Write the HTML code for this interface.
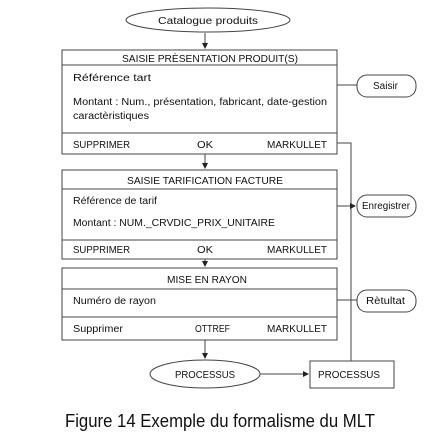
<!DOCTYPE html>
<html><head><meta charset="utf-8"><style>
html,body{margin:0;padding:0;background:#fff;}
svg{display:block;font-family:"Liberation Sans",sans-serif;}
svg text{font-size:10px;fill:#111;}
</style></head><body>
<svg width="434" height="445" viewBox="0 0 434 445" xmlns="http://www.w3.org/2000/svg">
<defs><marker id="a" markerWidth="6" markerHeight="6" refX="5" refY="3" orient="auto" markerUnits="userSpaceOnUse"><path d="M0,0 L6,3 L0,6z" fill="#222"/></marker></defs>
<g stroke="#444" stroke-width="1" fill="none">
<ellipse cx="208" cy="20" rx="82" ry="12"/>
<line x1="205" y1="33" x2="205" y2="48" marker-end="url(#a)"/>
<rect x="62" y="50" width="275" height="104"/>
<line x1="62" y1="65" x2="337" y2="65"/>
<line x1="62" y1="133" x2="337" y2="133"/>
<line x1="205" y1="154" x2="205" y2="168" marker-end="url(#a)"/>
<rect x="62" y="170" width="275" height="89"/>
<line x1="62" y1="189" x2="337" y2="189"/>
<line x1="62" y1="240" x2="337" y2="240"/>
<line x1="205" y1="259" x2="205" y2="266" marker-end="url(#a)"/>
<rect x="62" y="268" width="275" height="72"/>
<line x1="62" y1="289" x2="337" y2="289"/>
<line x1="62" y1="317" x2="337" y2="317"/>
<line x1="205" y1="340" x2="205" y2="358" marker-end="url(#a)"/>
<ellipse cx="205" cy="374" rx="55" ry="14"/>
<line x1="260" y1="374" x2="308" y2="374" marker-end="url(#a)"/>
<rect x="310" y="361" width="84" height="27"/>
<polyline points="337,143 351,143 351,361"/>
<line x1="337" y1="85" x2="357" y2="85"/>
<rect x="357" y="75" width="59" height="22" rx="10"/>
<line x1="337" y1="206" x2="355" y2="206" marker-end="url(#a)"/>
<rect x="357" y="195" width="59" height="22" rx="10"/>
<line x1="337" y1="300" x2="357" y2="300"/>
<rect x="357" y="290" width="59" height="22" rx="10"/>
</g>
<g>
<text x="158" y="24" textLength="100" lengthAdjust="spacingAndGlyphs">Catalogue produits</text>
<text x="122" y="62" textLength="176" lengthAdjust="spacingAndGlyphs">SAISIE PRÈSENTATION PRODUIT(S)</text>
<text x="73" y="81" textLength="78" lengthAdjust="spacingAndGlyphs">Référence tart</text>
<text x="73" y="105" textLength="254" lengthAdjust="spacingAndGlyphs">Montant : Num., présentation, fabricant, date-gestion</text>
<text x="73" y="119" textLength="76" lengthAdjust="spacingAndGlyphs">caractèristiques</text>
<text x="73" y="148" textLength="57" lengthAdjust="spacingAndGlyphs">SUPPRIMER</text>
<text x="197" y="148" textLength="16" lengthAdjust="spacingAndGlyphs">OK</text>
<text x="267" y="148" textLength="60" lengthAdjust="spacingAndGlyphs">MARKULLET</text>
<text x="127" y="184" textLength="156" lengthAdjust="spacingAndGlyphs">SAISIE TARIFICATION FACTURE</text>
<text x="73" y="204" textLength="84" lengthAdjust="spacingAndGlyphs">Référence de tarif</text>
<text x="73" y="226" textLength="202" lengthAdjust="spacingAndGlyphs">Montant : NUM._CRVDIC_PRIX_UNITAIRE</text>
<text x="73" y="253" textLength="57" lengthAdjust="spacingAndGlyphs">SUPPRIMER</text>
<text x="197" y="253" textLength="16" lengthAdjust="spacingAndGlyphs">OK</text>
<text x="267" y="253" textLength="60" lengthAdjust="spacingAndGlyphs">MARKULLET</text>
<text x="167" y="283" textLength="80" lengthAdjust="spacingAndGlyphs">MISE EN RAYON</text>
<text x="73" y="304" textLength="83" lengthAdjust="spacingAndGlyphs">Numéro de rayon</text>
<text x="73" y="332" textLength="50" lengthAdjust="spacingAndGlyphs">Supprimer</text>
<text x="195" y="332" textLength="35" lengthAdjust="spacingAndGlyphs">OTTREF</text>
<text x="267" y="332" textLength="60" lengthAdjust="spacingAndGlyphs">MARKULLET</text>
<text x="175" y="378" textLength="60" lengthAdjust="spacingAndGlyphs">PROCESSUS</text>
<text x="318" y="378" textLength="62" lengthAdjust="spacingAndGlyphs">PROCESSUS</text>
<text x="373" y="89" textLength="25" lengthAdjust="spacingAndGlyphs">Saisir</text>
<text x="362" y="209" textLength="48" lengthAdjust="spacingAndGlyphs">Enregistrer</text>
<text x="366" y="304" textLength="39" lengthAdjust="spacingAndGlyphs">Rètultat</text>
<text x="65" y="427" style="font-size:18px" textLength="310" lengthAdjust="spacingAndGlyphs">Figure 14 Exemple du formalisme du MLT</text>
</g>
</svg>
</body></html>
